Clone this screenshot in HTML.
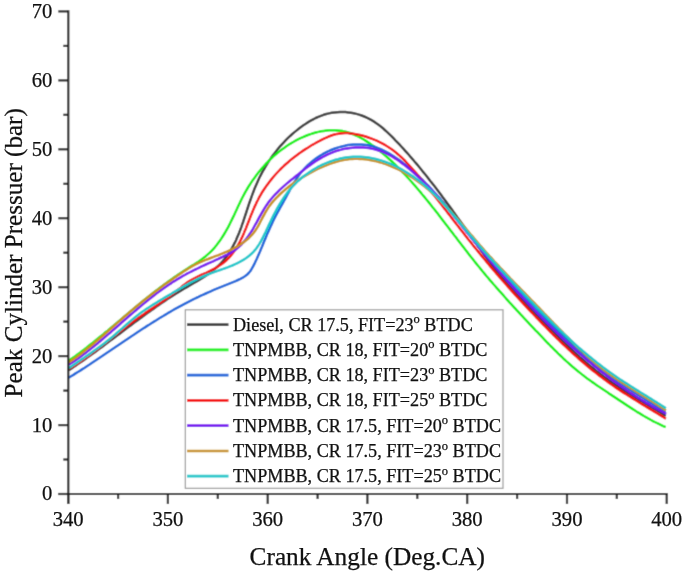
<!DOCTYPE html><html><head><meta charset="utf-8"><style>html,body{margin:0;padding:0;background:#fff;width:685px;height:574px;overflow:hidden}svg{display:block;will-change:transform}text{font-family:"Liberation Serif",serif;fill:#111}</style></head><body>
<svg width="685" height="574" viewBox="0 0 685 574">
<defs><filter id="bl" x="0" y="0" width="685" height="574" filterUnits="userSpaceOnUse"><feConvolveMatrix order="3" kernelMatrix="0.0225 0.1050 0.0225 0.1050 0.4900 0.1050 0.0225 0.1050 0.0225" divisor="1" edgeMode="duplicate"/></filter></defs><g filter="url(#bl)"><rect width="685" height="574" fill="#fff"/>
<path d="M68.8,370.1 71.2,368.6 73.6,367.0 75.9,365.4 78.3,363.8 80.6,362.2 83.0,360.6 85.3,359.0 87.6,357.3 89.9,355.7 92.2,354.0 94.5,352.4 96.8,350.7 99.0,349.0 101.3,347.4 103.6,345.7 105.8,344.0 108.1,342.3 110.4,340.6 112.6,339.0 114.9,337.3 117.1,335.6 119.3,333.9 121.6,332.2 123.8,330.5 126.1,328.8 128.3,327.1 130.6,325.4 132.8,323.8 135.1,322.1 137.3,320.4 139.6,318.7 141.9,317.1 144.1,315.4 146.4,313.8 148.7,312.1 151.0,310.5 153.3,308.9 155.6,307.3 157.9,305.6 160.2,304.0 162.5,302.5 164.9,300.9 167.2,299.3 169.6,297.8 172.0,296.2 174.3,294.7 176.7,293.2 179.2,291.7 181.6,290.2 184.0,288.7 186.5,287.3 188.9,285.9 191.4,284.4 193.9,283.0 196.3,281.6 198.8,280.1 201.2,278.6 203.6,277.1 206.0,275.6 208.3,274.0 210.6,272.3 212.8,270.6 214.9,268.8 217.0,267.0 219.0,265.1 221.0,263.1 222.8,261.1 224.6,259.0 226.3,256.8 227.9,254.6 229.4,252.3 230.8,250.0 232.2,247.6 233.5,245.2 234.8,242.7 236.0,240.2 237.1,237.6 238.2,235.0 239.3,232.4 240.3,229.7 241.3,227.1 242.2,224.4 243.2,221.7 244.1,218.9 245.0,216.2 245.9,213.5 246.8,210.7 247.7,208.0 248.6,205.2 249.5,202.5 250.5,199.8 251.4,197.1 252.4,194.4 253.4,191.8 254.4,189.1 255.5,186.5 256.6,183.9 257.7,181.4 258.9,178.8 260.1,176.3 261.4,173.9 262.7,171.4 264.1,169.0 265.5,166.6 266.9,164.3 268.4,161.9 269.9,159.6 271.5,157.3 273.1,155.1 274.8,152.9 276.5,150.7 278.2,148.5 280.0,146.4 281.9,144.3 283.8,142.3 285.8,140.2 287.8,138.2 289.9,136.2 292.0,134.3 294.2,132.4 296.4,130.6 298.7,128.8 301.0,127.0 303.4,125.3 305.8,123.7 308.2,122.1 310.7,120.7 313.2,119.3 315.7,118.0 318.3,116.8 320.9,115.8 323.6,114.8 326.3,114.0 329.0,113.4 331.7,112.8 334.5,112.4 337.2,112.2 340.0,112.0 342.7,112.0 345.5,112.1 348.2,112.4 351.0,112.7 353.7,113.2 356.4,113.9 359.0,114.6 361.6,115.5 364.2,116.5 366.7,117.6 369.2,118.8 371.6,120.2 374.0,121.6 376.3,123.2 378.5,124.8 380.8,126.5 383.0,128.3 385.1,130.2 387.2,132.1 389.3,134.1 391.4,136.1 393.4,138.2 395.4,140.3 397.4,142.3 399.4,144.4 401.3,146.5 403.3,148.7 405.2,150.8 407.1,152.9 409.0,155.0 410.8,157.2 412.7,159.3 414.5,161.5 416.4,163.6 418.2,165.8 420.0,168.0 421.8,170.2 423.5,172.4 425.3,174.5 427.1,176.7 428.8,179.0 430.5,181.2 432.3,183.4 434.0,185.6 435.7,187.8 437.4,190.1 439.1,192.3 440.8,194.5 442.4,196.8 444.1,199.0 445.8,201.3 447.4,203.5 449.1,205.8 450.8,208.1 452.4,210.3 454.0,212.6 455.7,214.9 457.3,217.2 459.0,219.5 460.6,221.7 462.2,224.0 463.9,226.3 465.5,228.6 467.1,230.9 468.8,233.2 470.4,235.5 472.0,237.8 473.7,240.1 475.3,242.4 477.0,244.7 478.6,247.0 480.3,249.3 481.9,251.6 483.6,253.9 485.3,256.2 487.0,258.5 488.7,260.8 490.4,263.0 492.1,265.3 493.8,267.5 495.6,269.7 497.3,272.0 499.1,274.2 500.9,276.3 502.7,278.5 504.5,280.7 506.4,282.8 508.2,284.9 510.1,287.1 512.0,289.1 513.9,291.2 515.8,293.3 517.7,295.4 519.6,297.4 521.6,299.4 523.5,301.5 525.5,303.5 527.4,305.5 529.4,307.5 531.4,309.5 533.4,311.5 535.3,313.6 537.3,315.6 539.3,317.6 541.3,319.6 543.2,321.6 545.2,323.6 547.2,325.7 549.2,327.7 551.2,329.7 553.2,331.7 555.2,333.7 557.2,335.7 559.2,337.7 561.2,339.7 563.2,341.6 565.3,343.6 567.3,345.6 569.3,347.5 571.4,349.4 573.5,351.4 575.5,353.3 577.6,355.2 579.7,357.1 581.8,358.9 584.0,360.8 586.1,362.6 588.2,364.5 590.4,366.3 592.6,368.0 594.8,369.8 597.0,371.6 599.2,373.3 601.5,375.0 603.7,376.7 606.0,378.3 608.3,380.0 610.6,381.6 612.9,383.2 615.3,384.8 617.6,386.3 620.0,387.9 622.4,389.4 624.7,390.9 627.1,392.5 629.5,394.0 631.9,395.4 634.4,396.9 636.8,398.4 639.2,399.9 641.6,401.3 644.0,402.8 646.5,404.2 648.9,405.7 651.3,407.1 653.7,408.6 656.2,410.0 658.6,411.5 661.0,412.9 663.4,414.4 665.8,415.8" fill="none" stroke="#3c3c3c" stroke-width="2.5" stroke-linejoin="round" stroke-linecap="butt"/>
<path d="M68.9,360.7 71.1,359.1 73.3,357.5 75.5,355.9 77.7,354.3 79.9,352.7 82.1,351.0 84.2,349.4 86.4,347.7 88.5,346.0 90.7,344.3 92.8,342.7 94.9,341.0 97.0,339.2 99.1,337.5 101.3,335.8 103.4,334.1 105.5,332.3 107.6,330.6 109.6,328.9 111.7,327.1 113.8,325.4 115.9,323.6 118.0,321.9 120.1,320.1 122.2,318.4 124.2,316.6 126.3,314.9 128.4,313.1 130.5,311.4 132.6,309.6 134.7,307.9 136.8,306.2 138.9,304.4 141.0,302.7 143.1,301.0 145.2,299.3 147.3,297.6 149.5,295.9 151.6,294.2 153.7,292.5 155.9,290.8 158.1,289.2 160.2,287.5 162.4,285.9 164.6,284.3 166.8,282.7 169.0,281.1 171.2,279.5 173.4,277.9 175.7,276.4 177.9,274.8 180.2,273.3 182.5,271.8 184.8,270.3 187.1,268.9 189.4,267.4 191.7,265.9 194.0,264.5 196.3,263.0 198.6,261.5 200.8,259.9 203.0,258.3 205.1,256.7 207.2,254.9 209.2,253.1 211.1,251.3 213.0,249.3 214.8,247.3 216.5,245.2 218.1,243.1 219.7,240.9 221.3,238.6 222.8,236.3 224.2,234.0 225.6,231.7 226.9,229.3 228.3,226.9 229.5,224.5 230.7,222.0 231.9,219.6 233.1,217.1 234.3,214.7 235.4,212.2 236.6,209.7 237.7,207.3 238.9,204.8 240.0,202.4 241.2,200.0 242.4,197.5 243.7,195.1 245.0,192.7 246.3,190.4 247.7,188.0 249.1,185.7 250.6,183.4 252.1,181.1 253.7,178.9 255.3,176.7 256.9,174.5 258.6,172.3 260.3,170.2 262.1,168.1 263.9,166.1 265.7,164.0 267.6,162.1 269.6,160.1 271.5,158.2 273.5,156.4 275.6,154.6 277.7,152.8 279.8,151.1 281.9,149.5 284.1,147.9 286.4,146.3 288.6,144.8 290.9,143.4 293.3,142.0 295.6,140.7 298.0,139.4 300.5,138.2 303.0,137.1 305.5,136.0 308.0,135.0 310.6,134.1 313.2,133.3 315.8,132.5 318.5,131.9 321.1,131.3 323.8,130.9 326.5,130.5 329.3,130.3 332.0,130.2 334.7,130.2 337.5,130.4 340.2,130.7 342.8,131.1 345.5,131.7 348.1,132.4 350.6,133.3 353.1,134.2 355.6,135.3 358.0,136.4 360.4,137.7 362.8,139.0 365.1,140.4 367.4,141.9 369.6,143.4 371.9,145.0 374.1,146.6 376.2,148.2 378.4,149.9 380.5,151.6 382.6,153.3 384.7,155.1 386.7,156.8 388.8,158.7 390.8,160.5 392.8,162.3 394.8,164.2 396.7,166.1 398.6,168.1 400.5,170.0 402.4,172.0 404.3,173.9 406.2,175.9 408.0,178.0 409.9,180.0 411.7,182.0 413.5,184.1 415.3,186.1 417.1,188.2 418.8,190.3 420.6,192.4 422.3,194.5 424.1,196.6 425.8,198.7 427.5,200.8 429.2,202.9 430.9,205.0 432.6,207.2 434.3,209.3 436.0,211.4 437.7,213.6 439.3,215.7 441.0,217.9 442.6,220.1 444.3,222.2 446.0,224.4 447.6,226.5 449.3,228.7 450.9,230.9 452.6,233.0 454.2,235.2 455.9,237.3 457.5,239.5 459.2,241.7 460.8,243.8 462.5,246.0 464.1,248.1 465.8,250.3 467.5,252.4 469.1,254.6 470.8,256.7 472.5,258.8 474.2,261.0 475.9,263.1 477.6,265.2 479.3,267.3 481.0,269.4 482.7,271.5 484.5,273.6 486.2,275.7 488.0,277.8 489.7,279.9 491.5,281.9 493.3,284.0 495.1,286.0 496.9,288.1 498.7,290.1 500.5,292.2 502.3,294.2 504.1,296.2 505.9,298.3 507.7,300.3 509.5,302.3 511.4,304.3 513.2,306.3 515.1,308.4 516.9,310.4 518.8,312.4 520.6,314.4 522.5,316.4 524.3,318.3 526.2,320.3 528.1,322.3 529.9,324.3 531.8,326.3 533.7,328.3 535.5,330.3 537.4,332.2 539.3,334.2 541.2,336.2 543.1,338.2 544.9,340.1 546.8,342.1 548.7,344.0 550.6,346.0 552.6,347.9 554.5,349.8 556.4,351.7 558.3,353.6 560.3,355.5 562.3,357.4 564.2,359.3 566.2,361.1 568.3,362.9 570.3,364.7 572.3,366.5 574.4,368.3 576.5,370.0 578.6,371.7 580.7,373.4 582.8,375.1 585.0,376.8 587.2,378.4 589.4,380.0 591.6,381.6 593.8,383.1 596.0,384.7 598.3,386.3 600.6,387.8 602.8,389.3 605.1,390.8 607.4,392.3 609.6,393.9 611.9,395.4 614.2,396.9 616.5,398.4 618.7,399.9 621.0,401.4 623.3,402.9 625.5,404.4 627.8,405.9 630.1,407.4 632.4,408.9 634.6,410.3 636.9,411.8 639.3,413.2 641.6,414.6 643.9,416.0 646.3,417.3 648.6,418.7 651.0,420.0 653.4,421.3 655.8,422.5 658.3,423.7 660.7,424.9 663.2,426.1 665.7,427.2" fill="none" stroke="#0ef00e" stroke-width="2.5" stroke-linejoin="round" stroke-linecap="butt"/>
<path d="M68.8,377.7 71.1,376.3 73.4,374.9 75.6,373.4 77.9,372.0 80.2,370.6 82.4,369.1 84.7,367.7 86.9,366.2 89.2,364.8 91.4,363.3 93.6,361.8 95.9,360.3 98.1,358.8 100.4,357.3 102.6,355.8 104.8,354.3 107.0,352.8 109.3,351.3 111.5,349.8 113.7,348.3 115.9,346.8 118.2,345.3 120.4,343.8 122.6,342.3 124.8,340.8 127.1,339.2 129.3,337.7 131.5,336.2 133.8,334.8 136.0,333.3 138.2,331.8 140.5,330.3 142.7,328.8 145.0,327.4 147.2,325.9 149.5,324.5 151.8,323.0 154.0,321.6 156.3,320.2 158.6,318.7 160.9,317.3 163.2,316.0 165.5,314.6 167.8,313.2 170.1,311.9 172.4,310.5 174.7,309.2 177.1,307.9 179.4,306.6 181.8,305.3 184.1,304.1 186.5,302.8 188.9,301.6 191.3,300.4 193.7,299.2 196.1,298.0 198.5,296.9 200.9,295.7 203.4,294.6 205.8,293.5 208.3,292.4 210.7,291.3 213.2,290.2 215.6,289.2 218.1,288.1 220.6,287.1 223.1,286.1 225.6,285.1 228.1,284.1 230.6,283.1 233.1,282.1 235.6,281.1 238.0,280.0 240.4,278.9 242.7,277.7 244.9,276.3 246.9,274.8 248.7,273.0 250.4,271.0 251.8,268.7 253.1,266.4 254.4,263.9 255.5,261.5 256.7,259.0 257.8,256.5 258.9,254.0 260.0,251.5 261.0,249.0 262.1,246.5 263.1,244.0 264.1,241.6 265.2,239.1 266.2,236.6 267.2,234.1 268.3,231.7 269.4,229.2 270.5,226.8 271.6,224.4 272.7,221.9 273.9,219.5 275.1,217.2 276.3,214.8 277.6,212.4 278.9,210.1 280.2,207.7 281.5,205.4 282.8,203.1 284.1,200.7 285.4,198.4 286.7,196.0 287.9,193.7 289.2,191.3 290.4,189.0 291.7,186.6 293.0,184.3 294.4,182.1 295.8,179.8 297.2,177.6 298.8,175.4 300.4,173.3 302.1,171.3 303.8,169.3 305.6,167.3 307.5,165.5 309.5,163.6 311.5,161.9 313.6,160.2 315.8,158.6 318.0,157.1 320.3,155.6 322.6,154.2 325.0,152.9 327.4,151.7 329.8,150.5 332.3,149.5 334.9,148.5 337.5,147.6 340.1,146.9 342.7,146.2 345.4,145.6 348.1,145.1 350.7,144.8 353.4,144.5 356.1,144.4 358.8,144.4 361.5,144.4 364.1,144.7 366.7,145.0 369.3,145.5 371.9,146.1 374.4,146.8 376.9,147.6 379.4,148.6 381.8,149.6 384.3,150.8 386.6,152.0 389.0,153.3 391.3,154.7 393.6,156.2 395.8,157.7 398.0,159.2 400.2,160.8 402.4,162.4 404.5,164.1 406.6,165.7 408.7,167.4 410.7,169.2 412.8,170.9 414.8,172.7 416.7,174.5 418.7,176.3 420.6,178.2 422.5,180.0 424.4,181.9 426.3,183.8 428.2,185.7 430.0,187.7 431.8,189.6 433.6,191.6 435.4,193.6 437.2,195.6 439.0,197.6 440.7,199.6 442.4,201.7 444.2,203.7 445.9,205.8 447.6,207.9 449.3,209.9 451.0,212.0 452.7,214.1 454.4,216.2 456.1,218.3 457.7,220.4 459.4,222.5 461.1,224.6 462.8,226.7 464.4,228.8 466.1,230.9 467.8,233.0 469.5,235.1 471.1,237.2 472.8,239.3 474.5,241.4 476.2,243.5 477.9,245.6 479.6,247.7 481.3,249.7 483.1,251.8 484.8,253.8 486.6,255.9 488.3,257.9 490.1,259.9 491.9,261.9 493.6,263.9 495.4,265.9 497.2,267.9 499.0,269.9 500.8,271.9 502.6,273.9 504.5,275.8 506.3,277.8 508.1,279.8 509.9,281.7 511.8,283.7 513.6,285.6 515.5,287.6 517.3,289.5 519.2,291.4 521.0,293.4 522.9,295.3 524.8,297.2 526.6,299.1 528.5,301.1 530.4,303.0 532.3,304.9 534.2,306.8 536.0,308.7 537.9,310.7 539.8,312.6 541.7,314.5 543.6,316.4 545.4,318.3 547.3,320.3 549.2,322.2 551.1,324.1 553.0,326.0 554.9,327.9 556.8,329.8 558.7,331.7 560.6,333.6 562.5,335.5 564.4,337.3 566.4,339.2 568.3,341.1 570.2,342.9 572.2,344.8 574.1,346.6 576.1,348.4 578.1,350.3 580.1,352.1 582.1,353.9 584.1,355.6 586.1,357.4 588.1,359.1 590.1,360.9 592.2,362.6 594.3,364.3 596.3,366.0 598.4,367.7 600.5,369.3 602.7,371.0 604.8,372.6 607.0,374.2 609.1,375.7 611.3,377.3 613.5,378.8 615.7,380.4 618.0,381.9 620.2,383.4 622.4,384.8 624.7,386.3 627.0,387.8 629.2,389.2 631.5,390.7 633.8,392.1 636.1,393.5 638.3,395.0 640.6,396.4 642.9,397.8 645.2,399.2 647.5,400.7 649.7,402.1 652.0,403.5 654.3,404.9 656.5,406.4 658.8,407.8 661.0,409.3 663.2,410.8 665.5,412.3" fill="none" stroke="#1868da" stroke-width="2.5" stroke-linejoin="round" stroke-linecap="butt"/>
<path d="M68.8,369.0 71.1,367.5 73.4,366.1 75.7,364.6 78.0,363.1 80.3,361.6 82.5,360.1 84.7,358.5 87.0,357.0 89.2,355.4 91.3,353.8 93.5,352.1 95.7,350.5 97.8,348.9 100.0,347.2 102.1,345.5 104.3,343.9 106.4,342.2 108.5,340.5 110.7,338.8 112.8,337.1 114.9,335.5 117.1,333.8 119.2,332.1 121.4,330.4 123.5,328.8 125.7,327.1 127.8,325.5 130.0,323.9 132.2,322.3 134.4,320.7 136.6,319.1 138.8,317.5 141.1,316.0 143.3,314.5 145.5,312.9 147.8,311.4 150.0,309.9 152.3,308.4 154.6,306.8 156.8,305.3 159.1,303.8 161.3,302.3 163.5,300.7 165.7,299.1 167.9,297.6 170.1,296.0 172.3,294.3 174.4,292.7 176.6,291.0 178.7,289.3 180.8,287.6 182.8,285.8 184.9,284.2 187.1,282.6 189.3,281.1 191.6,279.8 193.9,278.5 196.3,277.3 198.7,276.1 201.1,275.0 203.6,273.9 206.1,272.8 208.6,271.6 211.0,270.4 213.5,269.1 216.0,267.8 218.4,266.3 220.7,264.8 222.9,263.2 225.0,261.5 227.0,259.7 228.8,257.8 230.6,255.9 232.3,253.8 233.8,251.7 235.3,249.5 236.7,247.3 238.1,245.0 239.4,242.7 240.6,240.3 241.8,237.9 242.9,235.4 244.0,232.9 245.0,230.4 246.1,227.9 247.1,225.3 248.1,222.7 249.1,220.2 250.1,217.6 251.1,215.0 252.2,212.5 253.2,209.9 254.3,207.4 255.5,204.9 256.6,202.4 257.9,200.0 259.1,197.5 260.5,195.2 261.8,192.8 263.3,190.5 264.8,188.3 266.3,186.1 267.9,183.9 269.5,181.7 271.2,179.6 272.9,177.5 274.6,175.5 276.4,173.5 278.3,171.5 280.2,169.5 282.1,167.6 284.0,165.8 286.0,164.0 288.1,162.2 290.1,160.4 292.2,158.7 294.4,157.0 296.5,155.4 298.7,153.7 300.9,152.2 303.2,150.6 305.5,149.1 307.8,147.7 310.1,146.2 312.4,144.8 314.8,143.5 317.2,142.1 319.6,140.9 322.0,139.6 324.5,138.4 327.0,137.3 329.5,136.2 332.0,135.3 334.5,134.5 337.1,133.9 339.7,133.4 342.4,133.2 345.0,133.1 347.7,133.1 350.4,133.4 353.1,133.7 355.8,134.2 358.5,134.7 361.1,135.3 363.8,136.0 366.4,136.8 369.0,137.7 371.6,138.6 374.1,139.6 376.7,140.7 379.1,141.9 381.6,143.1 384.0,144.4 386.3,145.8 388.6,147.2 390.9,148.7 393.1,150.3 395.2,151.9 397.3,153.7 399.3,155.4 401.3,157.2 403.3,159.1 405.2,161.0 407.0,163.0 408.9,165.0 410.7,167.0 412.5,169.0 414.3,171.0 416.1,173.1 417.8,175.2 419.6,177.2 421.3,179.3 423.0,181.4 424.7,183.5 426.5,185.6 428.2,187.7 429.9,189.8 431.5,192.0 433.2,194.1 434.9,196.2 436.6,198.4 438.2,200.5 439.9,202.7 441.6,204.8 443.2,207.0 444.9,209.1 446.6,211.3 448.2,213.4 449.9,215.6 451.5,217.7 453.2,219.9 454.8,222.0 456.5,224.2 458.2,226.3 459.8,228.5 461.5,230.6 463.2,232.8 464.9,234.9 466.5,237.0 468.2,239.2 469.9,241.3 471.6,243.4 473.3,245.6 475.0,247.7 476.7,249.8 478.4,251.9 480.1,254.0 481.8,256.1 483.6,258.2 485.3,260.3 487.0,262.4 488.8,264.5 490.5,266.6 492.3,268.6 494.0,270.7 495.8,272.8 497.6,274.8 499.3,276.9 501.1,278.9 502.9,281.0 504.7,283.0 506.5,285.0 508.3,287.1 510.1,289.1 511.9,291.1 513.7,293.1 515.5,295.1 517.4,297.1 519.2,299.1 521.0,301.1 522.9,303.1 524.7,305.1 526.6,307.1 528.4,309.1 530.3,311.1 532.2,313.0 534.0,315.0 535.9,317.0 537.8,318.9 539.7,320.9 541.6,322.8 543.5,324.8 545.4,326.7 547.3,328.7 549.2,330.6 551.1,332.5 553.0,334.5 555.0,336.4 556.9,338.3 558.9,340.2 560.8,342.1 562.8,344.0 564.8,345.9 566.7,347.7 568.7,349.6 570.7,351.4 572.7,353.3 574.7,355.1 576.8,356.9 578.8,358.7 580.8,360.5 582.9,362.3 585.0,364.0 587.0,365.8 589.1,367.5 591.2,369.2 593.3,371.0 595.5,372.6 597.6,374.3 599.7,376.0 601.9,377.6 604.1,379.2 606.3,380.8 608.5,382.4 610.7,384.0 612.9,385.5 615.1,387.1 617.4,388.6 619.7,390.1 621.9,391.6 624.2,393.1 626.5,394.5 628.8,396.0 631.1,397.4 633.4,398.9 635.7,400.3 638.0,401.7 640.4,403.2 642.7,404.6 645.0,406.0 647.3,407.4 649.7,408.8 652.0,410.2 654.3,411.6 656.6,413.0 659.0,414.5 661.3,415.9 663.6,417.3 665.9,418.7" fill="none" stroke="#f40808" stroke-width="2.5" stroke-linejoin="round" stroke-linecap="butt"/>
<path d="M68.9,364.8 71.0,363.3 73.2,361.9 75.3,360.4 77.4,358.9 79.6,357.4 81.7,355.8 83.7,354.3 85.8,352.7 87.9,351.1 89.9,349.5 92.0,347.8 94.0,346.2 96.1,344.5 98.1,342.9 100.1,341.2 102.1,339.5 104.1,337.8 106.1,336.1 108.1,334.4 110.1,332.7 112.1,330.9 114.1,329.2 116.1,327.5 118.1,325.7 120.1,324.0 122.0,322.2 124.0,320.5 126.0,318.8 128.0,317.0 130.0,315.3 132.0,313.6 134.0,311.9 136.0,310.2 138.0,308.4 140.0,306.8 142.0,305.1 144.1,303.4 146.1,301.7 148.2,300.1 150.2,298.4 152.3,296.8 154.3,295.2 156.4,293.6 158.5,292.1 160.6,290.5 162.7,289.0 164.9,287.5 167.0,286.0 169.2,284.5 171.4,283.1 173.5,281.6 175.8,280.3 178.0,278.9 180.2,277.6 182.5,276.2 184.8,275.0 187.1,273.7 189.4,272.5 191.7,271.3 194.0,270.1 196.4,269.0 198.8,267.8 201.1,266.7 203.5,265.6 205.9,264.5 208.3,263.4 210.7,262.3 213.1,261.3 215.5,260.2 217.9,259.1 220.2,258.0 222.6,256.9 225.0,255.7 227.3,254.6 229.6,253.4 231.8,252.1 234.0,250.7 236.1,249.2 238.1,247.5 240.0,245.8 241.8,244.0 243.6,242.1 245.3,240.1 246.9,238.1 248.4,236.0 249.9,233.8 251.3,231.6 252.7,229.3 254.0,227.0 255.3,224.7 256.6,222.4 257.8,220.1 259.1,217.7 260.4,215.4 261.7,213.1 263.0,210.8 264.3,208.6 265.7,206.4 267.2,204.2 268.7,202.1 270.3,200.0 272.0,198.0 273.7,196.0 275.5,194.1 277.3,192.3 279.2,190.4 281.1,188.6 283.0,186.9 285.0,185.1 287.0,183.4 289.0,181.7 291.0,180.0 293.1,178.4 295.1,176.7 297.2,175.1 299.3,173.4 301.3,171.8 303.4,170.2 305.5,168.6 307.6,167.0 309.7,165.5 311.8,163.9 313.9,162.5 316.1,161.0 318.3,159.6 320.5,158.3 322.8,157.0 325.0,155.8 327.4,154.6 329.7,153.6 332.1,152.6 334.6,151.6 337.1,150.8 339.6,150.1 342.2,149.4 344.8,148.8 347.4,148.4 350.1,148.0 352.7,147.7 355.4,147.5 358.0,147.4 360.7,147.4 363.3,147.5 366.0,147.8 368.6,148.1 371.2,148.5 373.7,149.0 376.3,149.7 378.7,150.5 381.2,151.3 383.6,152.3 386.0,153.3 388.3,154.5 390.6,155.7 392.8,157.0 395.0,158.4 397.2,159.8 399.4,161.3 401.5,162.9 403.6,164.4 405.7,166.1 407.8,167.7 409.8,169.4 411.8,171.1 413.8,172.8 415.7,174.5 417.7,176.3 419.6,178.1 421.5,179.9 423.3,181.7 425.2,183.5 427.0,185.4 428.9,187.3 430.7,189.2 432.4,191.1 434.2,193.0 436.0,194.9 437.7,196.9 439.5,198.8 441.2,200.8 442.9,202.8 444.6,204.7 446.3,206.7 448.0,208.8 449.7,210.8 451.3,212.8 453.0,214.8 454.6,216.9 456.3,218.9 457.9,220.9 459.6,223.0 461.2,225.0 462.9,227.1 464.5,229.1 466.2,231.2 467.8,233.2 469.4,235.3 471.1,237.3 472.7,239.4 474.4,241.4 476.0,243.5 477.7,245.5 479.3,247.6 481.0,249.6 482.7,251.6 484.3,253.6 486.0,255.7 487.7,257.7 489.4,259.7 491.0,261.7 492.7,263.7 494.4,265.7 496.1,267.7 497.8,269.7 499.5,271.7 501.3,273.7 503.0,275.7 504.7,277.6 506.4,279.6 508.2,281.6 509.9,283.5 511.6,285.5 513.4,287.5 515.1,289.4 516.9,291.4 518.7,293.3 520.4,295.2 522.2,297.2 524.0,299.1 525.8,301.0 527.6,302.9 529.4,304.8 531.2,306.7 533.0,308.6 534.8,310.5 536.6,312.4 538.4,314.3 540.3,316.2 542.1,318.1 543.9,319.9 545.8,321.8 547.6,323.7 549.5,325.5 551.4,327.4 553.2,329.2 555.1,331.0 557.0,332.8 558.9,334.7 560.8,336.5 562.7,338.3 564.6,340.1 566.5,341.9 568.5,343.6 570.4,345.4 572.3,347.2 574.3,348.9 576.2,350.7 578.2,352.4 580.2,354.1 582.2,355.9 584.1,357.6 586.1,359.3 588.1,361.0 590.2,362.6 592.2,364.3 594.2,366.0 596.2,367.6 598.3,369.3 600.3,370.9 602.4,372.5 604.5,374.1 606.5,375.7 608.6,377.3 610.7,378.9 612.8,380.4 614.9,382.0 617.1,383.5 619.2,385.0 621.3,386.5 623.5,388.0 625.7,389.5 627.8,391.0 630.0,392.5 632.2,393.9 634.4,395.3 636.6,396.7 638.8,398.2 641.0,399.5 643.3,400.9 645.5,402.3 647.8,403.6 650.1,405.0 652.3,406.3 654.6,407.6 656.9,408.9 659.2,410.1 661.6,411.4 663.9,412.6 666.2,413.8" fill="none" stroke="#7812f0" stroke-width="2.5" stroke-linejoin="round" stroke-linecap="butt"/>
<path d="M68.8,362.4 71.0,360.9 73.1,359.4 75.2,358.0 77.3,356.4 79.3,354.9 81.4,353.4 83.4,351.8 85.4,350.2 87.4,348.6 89.4,347.0 91.4,345.4 93.4,343.8 95.3,342.1 97.3,340.5 99.2,338.8 101.2,337.1 103.1,335.5 105.0,333.8 107.0,332.1 108.9,330.4 110.8,328.7 112.7,327.0 114.6,325.3 116.5,323.6 118.4,321.9 120.4,320.2 122.3,318.5 124.2,316.8 126.1,315.2 128.1,313.5 130.0,311.8 132.0,310.1 133.9,308.5 135.9,306.8 137.9,305.2 139.9,303.6 141.9,302.0 143.9,300.3 145.9,298.8 147.9,297.2 149.9,295.6 152.0,294.0 154.0,292.5 156.1,290.9 158.1,289.4 160.2,287.9 162.3,286.3 164.3,284.8 166.4,283.3 168.5,281.9 170.6,280.4 172.7,278.9 174.8,277.5 176.9,276.0 179.0,274.6 181.2,273.2 183.3,271.8 185.4,270.4 187.6,269.0 189.7,267.7 191.9,266.4 194.2,265.2 196.4,264.0 198.7,262.9 201.1,261.9 203.4,260.9 205.8,259.9 208.2,259.0 210.6,258.0 213.0,257.1 215.4,256.2 217.8,255.3 220.2,254.3 222.6,253.4 225.0,252.4 227.4,251.4 229.7,250.3 232.0,249.2 234.3,248.0 236.5,246.8 238.7,245.5 240.8,244.2 242.9,242.8 244.9,241.3 246.8,239.8 248.7,238.2 250.4,236.4 252.1,234.6 253.7,232.7 255.2,230.7 256.6,228.6 258.0,226.4 259.2,224.2 260.4,221.8 261.6,219.5 262.8,217.2 264.1,214.8 265.3,212.5 266.6,210.3 268.0,208.1 269.5,205.9 271.0,203.9 272.7,201.9 274.4,200.0 276.1,198.1 277.9,196.3 279.7,194.5 281.6,192.8 283.5,191.1 285.4,189.5 287.3,187.9 289.3,186.3 291.3,184.8 293.4,183.3 295.5,181.9 297.6,180.5 299.7,179.1 301.9,177.7 304.1,176.4 306.3,175.1 308.5,173.8 310.8,172.6 313.1,171.4 315.4,170.2 317.8,169.0 320.1,167.9 322.5,166.8 324.9,165.8 327.4,164.8 329.8,163.8 332.3,163.0 334.7,162.2 337.2,161.5 339.7,160.8 342.2,160.3 344.7,159.8 347.2,159.4 349.7,159.1 352.3,158.9 354.8,158.8 357.3,158.8 359.8,158.9 362.3,159.0 364.8,159.2 367.3,159.5 369.8,159.9 372.3,160.4 374.8,160.9 377.2,161.5 379.7,162.2 382.1,162.9 384.6,163.7 387.0,164.6 389.4,165.5 391.8,166.5 394.1,167.5 396.5,168.6 398.8,169.7 401.1,170.9 403.4,172.1 405.6,173.4 407.9,174.7 410.1,176.1 412.3,177.5 414.4,178.9 416.5,180.4 418.6,181.9 420.7,183.4 422.7,185.0 424.7,186.6 426.7,188.2 428.7,189.8 430.6,191.5 432.5,193.2 434.4,194.9 436.3,196.7 438.1,198.4 439.9,200.2 441.8,202.0 443.6,203.8 445.3,205.6 447.1,207.5 448.8,209.4 450.6,211.2 452.3,213.1 454.0,215.0 455.7,217.0 457.4,218.9 459.1,220.8 460.8,222.8 462.5,224.7 464.1,226.6 465.8,228.6 467.5,230.6 469.1,232.5 470.8,234.5 472.5,236.4 474.1,238.4 475.8,240.4 477.5,242.3 479.1,244.2 480.8,246.2 482.5,248.1 484.2,250.1 485.9,252.0 487.6,253.9 489.3,255.8 491.1,257.7 492.8,259.6 494.5,261.5 496.3,263.4 498.0,265.2 499.7,267.1 501.5,269.0 503.3,270.8 505.0,272.7 506.8,274.6 508.5,276.4 510.3,278.3 512.1,280.1 513.9,282.0 515.6,283.8 517.4,285.7 519.2,287.5 521.0,289.3 522.8,291.2 524.6,293.0 526.4,294.8 528.1,296.7 529.9,298.5 531.7,300.4 533.5,302.2 535.3,304.0 537.1,305.9 538.9,307.7 540.7,309.6 542.4,311.4 544.2,313.3 546.0,315.1 547.8,317.0 549.6,318.8 551.3,320.7 553.1,322.5 554.9,324.4 556.7,326.2 558.5,328.1 560.3,329.9 562.1,331.7 563.8,333.6 565.7,335.4 567.5,337.2 569.3,339.0 571.1,340.8 572.9,342.6 574.8,344.4 576.6,346.2 578.5,347.9 580.3,349.7 582.2,351.4 584.1,353.2 586.0,354.9 587.9,356.6 589.8,358.3 591.7,360.0 593.7,361.6 595.6,363.3 597.6,364.9 599.6,366.5 601.6,368.1 603.6,369.7 605.7,371.2 607.7,372.7 609.8,374.2 611.9,375.7 614.0,377.2 616.1,378.6 618.2,380.1 620.4,381.5 622.5,382.9 624.7,384.3 626.9,385.7 629.1,387.1 631.2,388.4 633.4,389.8 635.6,391.2 637.8,392.5 640.0,393.9 642.2,395.2 644.4,396.6 646.6,397.9 648.7,399.3 650.9,400.6 653.1,402.0 655.2,403.4 657.4,404.7 659.5,406.1 661.7,407.5 663.8,408.9 665.9,410.4" fill="none" stroke="#c8941c" stroke-width="2.5" stroke-linejoin="round" stroke-linecap="butt"/>
<path d="M68.8,368.3 70.9,366.8 73.1,365.3 75.2,363.9 77.3,362.4 79.5,361.0 81.6,359.5 83.8,358.0 85.9,356.5 88.0,355.1 90.2,353.6 92.3,352.1 94.4,350.6 96.5,349.1 98.6,347.5 100.7,346.0 102.7,344.4 104.8,342.9 106.8,341.3 108.9,339.7 110.9,338.0 112.9,336.4 114.9,334.7 116.8,333.0 118.8,331.3 120.7,329.6 122.7,327.9 124.6,326.2 126.5,324.5 128.5,322.8 130.4,321.1 132.4,319.4 134.4,317.8 136.4,316.2 138.5,314.6 140.5,313.0 142.6,311.5 144.8,310.1 146.9,308.6 149.1,307.2 151.3,305.8 153.5,304.4 155.7,303.1 157.9,301.7 160.1,300.4 162.3,299.0 164.6,297.7 166.8,296.4 169.0,295.1 171.3,293.8 173.5,292.4 175.7,291.1 177.9,289.8 180.2,288.5 182.4,287.2 184.6,285.9 186.9,284.7 189.1,283.4 191.4,282.2 193.7,281.0 196.0,279.8 198.3,278.7 200.6,277.6 203.0,276.5 205.4,275.5 207.8,274.5 210.2,273.6 212.7,272.6 215.1,271.8 217.6,270.9 220.1,270.0 222.6,269.1 225.0,268.3 227.5,267.4 229.9,266.4 232.3,265.5 234.7,264.4 237.0,263.3 239.3,262.2 241.6,260.9 243.8,259.6 245.9,258.3 247.9,256.8 249.8,255.2 251.7,253.5 253.4,251.8 255.1,249.9 256.6,247.9 258.1,245.8 259.5,243.6 260.8,241.4 262.0,239.1 263.2,236.8 264.4,234.4 265.6,232.0 266.7,229.6 267.8,227.2 268.9,224.8 270.1,222.4 271.2,220.0 272.4,217.6 273.5,215.3 274.7,213.0 276.0,210.7 277.2,208.4 278.5,206.2 279.8,204.0 281.1,201.8 282.5,199.7 283.9,197.5 285.3,195.5 286.8,193.4 288.4,191.4 290.0,189.4 291.7,187.5 293.4,185.6 295.2,183.8 297.1,181.9 299.0,180.2 300.9,178.5 303.0,176.8 305.0,175.2 307.2,173.7 309.3,172.2 311.5,170.7 313.8,169.3 316.1,168.0 318.4,166.7 320.7,165.5 323.1,164.4 325.5,163.4 328.0,162.4 330.4,161.5 332.9,160.6 335.4,159.8 337.9,159.2 340.4,158.5 343.0,158.0 345.5,157.6 348.1,157.2 350.6,156.9 353.2,156.8 355.7,156.7 358.2,156.7 360.8,156.8 363.3,156.9 365.8,157.2 368.3,157.5 370.8,158.0 373.3,158.5 375.8,159.0 378.3,159.7 380.8,160.4 383.2,161.2 385.6,162.0 388.0,162.9 390.4,163.9 392.8,164.9 395.2,166.0 397.5,167.2 399.8,168.4 402.1,169.6 404.4,171.0 406.6,172.3 408.9,173.7 411.1,175.2 413.2,176.6 415.4,178.2 417.5,179.7 419.6,181.3 421.6,183.0 423.7,184.6 425.7,186.3 427.6,188.0 429.6,189.8 431.5,191.5 433.3,193.3 435.2,195.1 437.0,197.0 438.8,198.8 440.6,200.7 442.4,202.6 444.1,204.5 445.8,206.4 447.5,208.3 449.2,210.3 450.9,212.2 452.6,214.2 454.3,216.1 455.9,218.1 457.6,220.1 459.3,222.1 460.9,224.1 462.6,226.0 464.2,228.0 465.9,230.0 467.5,232.0 469.2,234.0 470.9,236.0 472.5,237.9 474.2,239.9 475.9,241.9 477.6,243.8 479.3,245.8 481.0,247.7 482.7,249.7 484.5,251.6 486.2,253.5 487.9,255.5 489.6,257.4 491.4,259.3 493.1,261.2 494.9,263.1 496.6,265.1 498.4,267.0 500.1,268.9 501.9,270.8 503.7,272.7 505.4,274.6 507.2,276.5 509.0,278.4 510.8,280.2 512.6,282.1 514.3,284.0 516.1,285.9 517.9,287.8 519.7,289.7 521.5,291.5 523.3,293.4 525.1,295.3 526.9,297.1 528.7,299.0 530.5,300.9 532.3,302.7 534.1,304.6 535.9,306.5 537.7,308.3 539.6,310.2 541.4,312.0 543.2,313.8 545.0,315.7 546.9,317.5 548.7,319.3 550.6,321.2 552.4,323.0 554.3,324.8 556.1,326.6 558.0,328.4 559.8,330.2 561.7,331.9 563.6,333.7 565.5,335.5 567.4,337.2 569.3,339.0 571.2,340.7 573.1,342.5 575.0,344.2 577.0,345.9 578.9,347.6 580.9,349.3 582.8,351.0 584.8,352.6 586.8,354.3 588.8,356.0 590.8,357.6 592.8,359.2 594.8,360.8 596.8,362.4 598.9,364.0 600.9,365.6 603.0,367.2 605.1,368.7 607.1,370.2 609.2,371.8 611.3,373.3 613.5,374.8 615.6,376.2 617.7,377.7 619.9,379.2 622.1,380.6 624.2,382.0 626.4,383.4 628.6,384.8 630.8,386.2 633.0,387.6 635.2,389.0 637.4,390.4 639.6,391.8 641.8,393.2 644.1,394.5 646.3,395.9 648.5,397.3 650.7,398.6 652.9,400.0 655.0,401.4 657.2,402.7 659.4,404.1 661.6,405.5 663.7,406.9 665.9,408.3" fill="none" stroke="#18c8cb" stroke-width="2.5" stroke-linejoin="round" stroke-linecap="butt"/>
<g stroke="#222" stroke-width="2.2" fill="none">
<line x1="68.3" y1="10.3" x2="68.3" y2="504.0"/>
<line x1="58.3" y1="494.0" x2="667.8" y2="494.0"/>
<line x1="58.3" y1="494.0" x2="68.3" y2="494.0"/>
<line x1="58.3" y1="425.1" x2="68.3" y2="425.1"/>
<line x1="58.3" y1="356.1" x2="68.3" y2="356.1"/>
<line x1="58.3" y1="287.2" x2="68.3" y2="287.2"/>
<line x1="58.3" y1="218.2" x2="68.3" y2="218.2"/>
<line x1="58.3" y1="149.3" x2="68.3" y2="149.3"/>
<line x1="58.3" y1="80.4" x2="68.3" y2="80.4"/>
<line x1="58.3" y1="11.4" x2="68.3" y2="11.4"/>
<line x1="63.3" y1="459.5" x2="68.3" y2="459.5"/>
<line x1="63.3" y1="390.6" x2="68.3" y2="390.6"/>
<line x1="63.3" y1="321.6" x2="68.3" y2="321.6"/>
<line x1="63.3" y1="252.7" x2="68.3" y2="252.7"/>
<line x1="63.3" y1="183.8" x2="68.3" y2="183.8"/>
<line x1="63.3" y1="114.8" x2="68.3" y2="114.8"/>
<line x1="63.3" y1="45.9" x2="68.3" y2="45.9"/>
<line x1="68.2" y1="494.0" x2="68.2" y2="504.0"/>
<line x1="167.9" y1="494.0" x2="167.9" y2="504.0"/>
<line x1="267.7" y1="494.0" x2="267.7" y2="504.0"/>
<line x1="367.4" y1="494.0" x2="367.4" y2="504.0"/>
<line x1="467.2" y1="494.0" x2="467.2" y2="504.0"/>
<line x1="567.0" y1="494.0" x2="567.0" y2="504.0"/>
<line x1="666.7" y1="494.0" x2="666.7" y2="504.0"/>
<line x1="118.1" y1="494.0" x2="118.1" y2="499.0"/>
<line x1="217.8" y1="494.0" x2="217.8" y2="499.0"/>
<line x1="317.6" y1="494.0" x2="317.6" y2="499.0"/>
<line x1="417.3" y1="494.0" x2="417.3" y2="499.0"/>
<line x1="517.1" y1="494.0" x2="517.1" y2="499.0"/>
<line x1="616.8" y1="494.0" x2="616.8" y2="499.0"/>
</g>
<rect x="185.3" y="309.8" width="317.7" height="178.5" fill="#fff" stroke="#959595" stroke-width="1.15"/>
<line x1="187" y1="324.6" x2="228.5" y2="324.6" stroke="#3c3c3c" stroke-width="2.7"/>
<line x1="187" y1="349.9" x2="228.5" y2="349.9" stroke="#0ef00e" stroke-width="2.7"/>
<line x1="187" y1="375.1" x2="228.5" y2="375.1" stroke="#1868da" stroke-width="2.7"/>
<line x1="187" y1="400.4" x2="228.5" y2="400.4" stroke="#f40808" stroke-width="2.7"/>
<line x1="187" y1="425.7" x2="228.5" y2="425.7" stroke="#7812f0" stroke-width="2.7"/>
<line x1="187" y1="451.0" x2="228.5" y2="451.0" stroke="#c8941c" stroke-width="2.7"/>
<line x1="187" y1="476.2" x2="228.5" y2="476.2" stroke="#18c8cb" stroke-width="2.7"/>
</g>
<g stroke="#111" stroke-width="0.25">
<text x="52.3" y="500.4" font-size="20.6" text-anchor="end">0</text>
<text x="52.3" y="431.5" font-size="20.6" text-anchor="end">10</text>
<text x="52.3" y="362.5" font-size="20.6" text-anchor="end">20</text>
<text x="52.3" y="293.6" font-size="20.6" text-anchor="end">30</text>
<text x="52.3" y="224.6" font-size="20.6" text-anchor="end">40</text>
<text x="52.3" y="155.7" font-size="20.6" text-anchor="end">50</text>
<text x="52.3" y="86.8" font-size="20.6" text-anchor="end">60</text>
<text x="52.3" y="17.8" font-size="20.6" text-anchor="end">70</text>
<text x="68.2" y="525.5" font-size="20.7" text-anchor="middle">340</text>
<text x="167.9" y="525.5" font-size="20.7" text-anchor="middle">350</text>
<text x="267.7" y="525.5" font-size="20.7" text-anchor="middle">360</text>
<text x="367.4" y="525.5" font-size="20.7" text-anchor="middle">370</text>
<text x="467.2" y="525.5" font-size="20.7" text-anchor="middle">380</text>
<text x="567.0" y="525.5" font-size="20.7" text-anchor="middle">390</text>
<text x="666.7" y="525.5" font-size="20.7" text-anchor="middle">400</text>
<text x="249.6" y="565" font-size="25.3">Crank Angle (Deg.CA)</text>
<text transform="translate(21.5,397.4) rotate(-90)" font-size="25.1">Peak Cylinder Pressuer (bar)</text>
<text x="233" y="330.6" font-size="18.15">Diesel, CR 17.5, FIT=23<tspan font-size="12.5" dy="-7.5">o</tspan><tspan dy="7.5"> BTDC</tspan></text>
<text x="233" y="355.9" font-size="18.15">TNPMBB, CR 18, FIT=20<tspan font-size="12.5" dy="-7.5">o</tspan><tspan dy="7.5"> BTDC</tspan></text>
<text x="233" y="381.1" font-size="18.15">TNPMBB, CR 18, FIT=23<tspan font-size="12.5" dy="-7.5">o</tspan><tspan dy="7.5"> BTDC</tspan></text>
<text x="233" y="406.4" font-size="18.15">TNPMBB, CR 18, FIT=25<tspan font-size="12.5" dy="-7.5">o</tspan><tspan dy="7.5"> BTDC</tspan></text>
<text x="233" y="431.7" font-size="18.15">TNPMBB, CR 17.5, FIT=20<tspan font-size="12.5" dy="-7.5">o</tspan><tspan dy="7.5"> BTDC</tspan></text>
<text x="233" y="457.0" font-size="18.15">TNPMBB, CR 17.5, FIT=23<tspan font-size="12.5" dy="-7.5">o</tspan><tspan dy="7.5"> BTDC</tspan></text>
<text x="233" y="482.2" font-size="18.15">TNPMBB, CR 17.5, FIT=25<tspan font-size="12.5" dy="-7.5">o</tspan><tspan dy="7.5"> BTDC</tspan></text>
</g>
</svg></body></html>
